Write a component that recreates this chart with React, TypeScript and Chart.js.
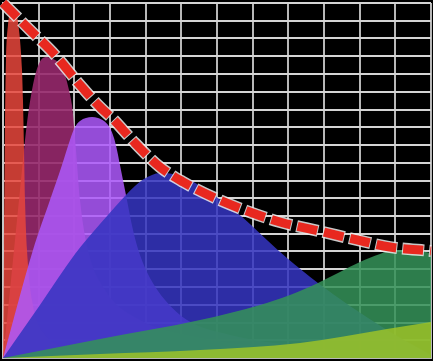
import React, { useEffect, useRef } from "react";
import { Chart, registerables } from "chart.js";

Chart.register(...registerables);

// x in grid columns (0..12), y in grid rows (0..20)
const redX = [0, 0.028, 0.056, 0.084, 0.14, 0.196, 0.28, 0.364, 0.42, 0.477, 0.533, 0.56, 0.589, 0.617, 0.673, 0.813, 1.178, 2.159, 4.121, 12];
const redY = [0, 6.08, 13.41, 16.79, 18.76, 19.49, 19.72, 19.49, 18.93, 17.92, 16.23, 14.54, 11.72, 8.9, 6.08, 3.27, 1.3, 0.45, 0.17, 0.06];

const maroonX = [0, 0.14, 0.308, 0.477, 0.617, 0.701, 0.813, 0.925, 1.065, 1.234, 1.402, 1.598, 1.738, 1.85, 1.934, 1.99, 2.047, 2.159, 2.383, 2.86, 3.841, 5.523, 8.326, 12];
const maroonY = [0, 2.7, 6.08, 9.46, 12.28, 13.69, 15.1, 16.11, 16.79, 16.96, 16.85, 16.56, 15.94, 15.1, 14.25, 13.13, 11.72, 8.9, 6.08, 3.83, 2.14, 1.13, 0.45, 0.11];

const purpleX = [0, 0.841, 1.318, 1.654, 1.878, 2.019, 2.159, 2.327, 2.495, 2.663, 2.832, 3.0, 3.112, 3.196, 3.28, 3.364, 3.448, 3.645, 3.841, 4.121, 4.542, 5.159, 6.364, 8.326, 12];
const purpleY = [0, 6.08, 8.9, 10.87, 12.28, 13.01, 13.35, 13.52, 13.58, 13.52, 13.35, 12.96, 12.39, 11.72, 10.87, 10.03, 9.18, 7.21, 5.8, 4.51, 3.27, 2.14, 1.3, 0.68, 0.17];

const blueX = [0, 1.037, 2.019, 2.719, 3.14, 3.42, 3.7, 3.925, 4.177, 4.401, 4.682, 4.962, 5.243, 5.523, 5.943, 6.504, 6.925, 7.401, 7.962, 8.831, 9.728, 10.765, 12];
const blueY = [0, 2.99, 5.86, 7.55, 8.51, 9.13, 9.69, 10.06, 10.31, 10.42, 10.39, 10.25, 10.03, 9.69, 9.13, 8.28, 7.55, 6.65, 5.63, 4.23, 2.93, 1.58, 0.17];

const greenX = [0, 2.719, 5.523, 7.205, 8.046, 8.831, 9.448, 10.009, 10.569, 10.99, 11.41, 12];
const greenY = [0, 1.07, 2.14, 2.99, 3.55, 4.23, 4.85, 5.41, 5.86, 6.08, 6.08, 5.92];

const limeX = [0, 2.719, 5.523, 8.326, 10.765, 12];
const limeY = [0, 0.23, 0.45, 0.85, 1.63, 2.03];

const envelopeX = [0, 0.757, 1.458, 2.159, 2.719, 3.084, 3.701, 4.401, 5.046, 5.943, 6.84, 7.765, 8.971, 9.924, 10.85, 12];
const envelopeY = [20, 18.48, 17.07, 15.38, 14.14, 13.46, 12.11, 10.76, 9.92, 9.01, 8.28, 7.66, 7.1, 6.65, 6.25, 6.03];

const xMax = 12;
const yMax = 20;

const pts = (xs: number[], ys: number[]) => xs.map((x, i) => ({ x, y: ys[i] }));

const bgPlugin = {
  id: "bg",
  beforeDraw(chart: any) {
    const { ctx, width, height } = chart;
    ctx.save();
    ctx.fillStyle = "#000";
    ctx.fillRect(0, 0, width, height);
    ctx.restore();
  },
};

const area = (label: string, xs: number[], ys: number[], color: string, order: number) => ({
  label,
  data: pts(xs, ys),
  fill: "origin",
  backgroundColor: color,
  borderWidth: 0,
  borderColor: "transparent",
  pointRadius: 0,
  cubicInterpolationMode: "monotone",
  order,
});

export default function App() {
  const ref = useRef<HTMLCanvasElement>(null);
  useEffect(() => {
    if (!ref.current) return;
    const chart = new Chart(ref.current, {
      type: "line",
      data: {
        datasets: [
          {
            label: "envelope",
            data: pts(envelopeX, envelopeY),
            fill: false,
            borderColor: "#e8281f",
            borderWidth: 9,
            borderDash: [20, 7],
            borderCapStyle: "butt",
            pointRadius: 0,
            cubicInterpolationMode: "monotone",
            clip: 8,
            order: 0,
          },
          {
            label: "envelope-glow",
            data: pts(envelopeX, envelopeY),
            fill: false,
            borderColor: "rgba(235,235,235,0.85)",
            borderWidth: 12,
            borderDash: [22, 5],
            borderDashOffset: 1,
            borderCapStyle: "butt",
            pointRadius: 0,
            cubicInterpolationMode: "monotone",
            clip: 8,
            order: 1,
          },
          area("lime", limeX, limeY, "rgba(160,196,38,0.82)", 2),
          area("green", greenX, greenY, "rgba(52,145,88,0.86)", 3),
          area("blue", blueX, blueY, "rgba(52,52,192,0.86)", 4),
          area("purple", purpleX, purpleY, "rgba(172,88,250,0.86)", 5),
          area("red", redX, redY, "rgba(232,70,60,0.85)", 6),
          area("maroon", maroonX, maroonY, "rgba(150,40,108,0.9)", 7),
        ] as any,
      },
      options: {
        responsive: false,
        animation: false,
        devicePixelRatio: 1,
        layout: { padding: { left: 3, top: 3, right: 2, bottom: 3 } },
        plugins: { legend: { display: false }, tooltip: { enabled: false } },
        scales: {
          x: {
            type: "linear",
            min: 0,
            max: xMax,
            ticks: { display: false, stepSize: 1 },
            grid: { color: "#b8b8b8", lineWidth: 2, drawTicks: false },
            border: { display: true, color: "#b8b8b8", width: 2 },
          },
          y: {
            type: "linear",
            min: 0,
            max: yMax,
            ticks: { display: false, stepSize: 1 },
            grid: { color: "#d4d4d4", lineWidth: 2, drawTicks: false },
            border: { display: true, color: "#c8c8c8", width: 2 },
          },
        },
      } as any,
      plugins: [bgPlugin],
    });
    return () => chart.destroy();
  }, []);
  return (
    <div style={{ position: "fixed", left: 0, top: 0, width: 433, height: 361, background: "#000" }}>
      <canvas ref={ref} width={433} height={361} style={{ display: "block" }} />
    </div>
  );
}
